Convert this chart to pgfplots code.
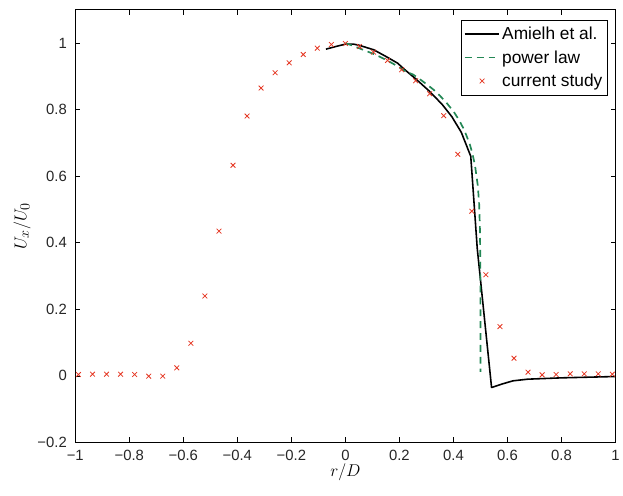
\documentclass[border=0pt]{standalone}
\usepackage{fontspec}
\setmainfont{Liberation Sans}
\usepackage{pgfplots}
\pgfplotsset{compat=1.18}

\definecolor{studyred}{RGB}{228,52,32}
\definecolor{lawgreen}{RGB}{35,135,85}

\begin{document}
\begin{tikzpicture}
\begin{axis}[
  scale only axis,
  width=546pt, height=437pt,
  xmin=-1, xmax=1, ymin=-0.2, ymax=1.1,
  xtick={-1,-0.8,-0.6,-0.4,-0.2,0,0.2,0.4,0.6,0.8,1},
  xticklabels={−1,−0.8,−0.6,−0.4,−0.2,0,0.2,0.4,0.6,0.8,1},
  ytick={-0.2,0,0.2,0.4,0.6,0.8,1},
  yticklabels={−0.2,0,0.2,0.4,0.6,0.8,1},
  tick label style={font=\fontsize{15}{18}\selectfont, text=black!85},
  xticklabel style={yshift=-4pt},
  yticklabel style={xshift=-5pt},
  major tick length=5pt,
  tick style={black, line width=0.6pt},
  axis line style={line width=0.8pt},
  xlabel={$r/D$}, ylabel={$U_x/U_0$},
  label style={font=\fontsize{19}{22}\selectfont},
  xlabel style={yshift=3pt},
  legend style={at={(1,1)}, anchor=north east, xshift=-8pt, yshift=-10pt,
    font=\fontsize{17.5}{21}\selectfont, draw=black, line width=0.8pt,
    inner xsep=3pt, inner ysep=5pt, row sep=5.5pt},
  legend cell align=left,
  legend image code/.code={%
    \draw[mark repeat=2, mark phase=2, #1]
      plot coordinates {(0pt,0pt) (17.5pt,0pt) (35pt,0pt)};},
]

% measured profile (Amielh et al.)
\addplot[black, line width=1.6pt, line join=round] coordinates {
  (-0.072,0.982) (-0.035,0.990) (0.000,0.997) (0.030,0.997) (0.050,0.994)
  (0.105,0.980) (0.150,0.960) (0.193,0.940) (0.223,0.918) (0.260,0.893)
  (0.309,0.857) (0.358,0.816) (0.394,0.779) (0.429,0.732) (0.464,0.660)
  (0.488,0.383) (0.541,-0.035) (0.578,-0.025) (0.620,-0.015) (0.675,-0.010)
  (0.800,-0.006) (1.000,-0.002)
};
\addlegendentry{Amielh et al.}

% 1/7 power-law inlet profile
\addplot[lawgreen, line width=1.7pt, dash pattern=on 7pt off 5pt] coordinates {
  (0.000,1.000) (0.025,0.993) (0.050,0.985) (0.075,0.977) (0.100,0.969)
  (0.125,0.960) (0.150,0.950) (0.175,0.939) (0.200,0.927) (0.225,0.914)
  (0.250,0.906) (0.275,0.892) (0.300,0.877) (0.325,0.861) (0.350,0.842)
  (0.375,0.820) (0.400,0.795) (0.420,0.770) (0.440,0.739) (0.460,0.697)
  (0.470,0.669) (0.480,0.631) (0.490,0.572) (0.495,0.518) (0.498,0.440)
  (0.4995,0.330) (0.500,0.012)
};
\addlegendentry{power law}

% present simulation
\addplot[only marks, mark=x, mark size=3.4pt, studyred, line width=0.8pt] coordinates {
  (-0.988,0.004) (-0.936,0.005) (-0.884,0.005) (-0.832,0.005) (-0.780,0.004)
  (-0.728,-0.001) (-0.676,-0.001) (-0.624,0.024) (-0.572,0.098) (-0.520,0.240)
  (-0.468,0.435) (-0.416,0.633) (-0.364,0.781) (-0.312,0.865) (-0.260,0.911)
  (-0.208,0.941) (-0.156,0.966) (-0.104,0.985) (-0.052,0.996) (0.000,0.999)
  (0.052,0.990) (0.104,0.973) (0.156,0.948) (0.208,0.920) (0.260,0.887)
  (0.312,0.848) (0.364,0.782) (0.416,0.666) (0.468,0.495) (0.520,0.304)
  (0.572,0.148) (0.624,0.053) (0.676,0.011) (0.728,0.003) (0.780,0.004)
  (0.832,0.006) (0.884,0.006) (0.936,0.006) (0.988,0.005)
};
\addlegendentry{current study}

\end{axis}
\path (current axis.south west) ++(-76pt,-54pt);
\path (current axis.north east) ++(1pt,10pt);
\end{tikzpicture}
\end{document}
